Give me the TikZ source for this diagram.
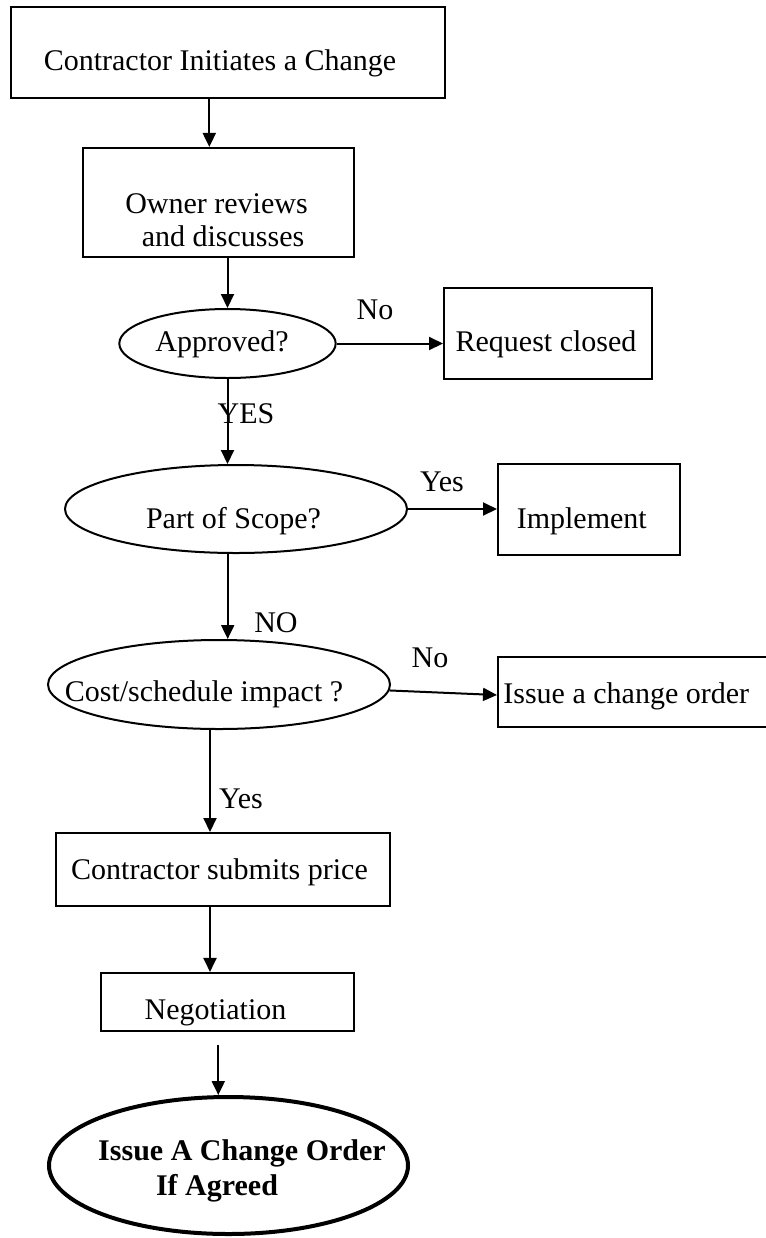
\documentclass[tikz,border=0pt]{standalone}
\usepackage{fontspec}
\setmainfont{Liberation Serif}
\usetikzlibrary{shapes.geometric,arrows.meta,calc}
\begin{document}
\begin{tikzpicture}[x=0.5pt,y=-0.5pt,
  every node/.style={font=\fontsize{15}{18}\selectfont},
  box/.style={draw,line width=1pt,rectangle,inner sep=0pt},
  ell/.style={draw,line width=1pt,ellipse,inner sep=0pt},
  txt/.style={anchor=base,inner sep=0pt},
  boldtxt/.style={txt,font=\fontsize{15}{18}\selectfont\bfseries},
  arr/.style={line width=1pt,-{Triangle[length=7pt,width=6.5pt]}}]
\useasboundingbox (0,0) rectangle (766,1238);
% column coordinates
\coordinate (cA) at (209.3,0);
\coordinate (cB) at (227.7,0);
\coordinate (cC) at (210,0);
\coordinate (cD) at (218.3,0);
% shapes
\node[box,minimum width=217pt,minimum height=45.35pt] (b1) at (227.7,52.7) {};
\node[txt] (t1) at (220,70.7) {Contractor Initiates a Change};
\node[box,minimum width=135.65pt,minimum height=54.35pt] (b2) at (218.3,202.3) {};
\node[txt] (t2a) at (216.5,213.3) {Owner reviews};
\node[txt] (t2b) at (223,246.7) {and discusses};
\node[ell,minimum width=108.2pt,minimum height=34.5pt] (e1) at (227.5,343.5) {};
\node[txt] (t3) at (222,351.7) {Approved?};
\node[box,minimum width=104pt,minimum height=45.5pt] (b3) at (548,333.5) {};
\node[txt] (t4) at (546,351.7) {Request closed};
\node[ell,minimum width=171pt,minimum height=44pt] (e2) at (236,509) {};
\node[txt] (t5) at (233.5,528.3) {Part of Scope?};
\node[box,minimum width=91pt,minimum height=45.5pt] (b4) at (589,509.5) {};
\node[txt] (t6) at (581.8,528.3) {Implement};
\node[ell,minimum width=171pt,minimum height=44.5pt] (e3) at (219,684.5) {};
\node[txt] (t7) at (204,701.7) {Cost/schedule impact ?};
\node[box,minimum width=136pt,minimum height=35pt] (b5) at (634,692) {};
\node[txt,anchor=base west] (t8) at (503,703.3) {Issue a change order};
\node[box,minimum width=167pt,minimum height=36.5pt] (b6) at (223,869.5) {};
\node[txt] (t9) at (219.5,879.3) {Contractor submits price};
\node[box,minimum width=126.65pt,minimum height=28.85pt] (b7) at (227.3,1001.8) {};
\node[txt] (t10) at (215.5,1019.3) {Negotiation};
\node[ell,line width=2pt,minimum width=179.5pt,minimum height=68.5pt] (e4) at (228.5,1165.5) {};
\node[boldtxt] (t11a) at (242,1160) {Issue A Change Order};
\node[boldtxt] (t11b) at (217,1195) {If Agreed};
% connector labels
\node[txt] (l1) at (375,319.5) {No};
\node[txt] (l2) at (246,423.3) {YES};
\node[txt] (l3) at (442,491.7) {Yes};
\node[txt] (l4) at (276,632) {NO};
\node[txt] (l5) at (430,667.7) {No};
\node[txt] (l6) at (241,808.3) {Yes};
% connectors
\draw[arr] (b1.south -| cA) -- (b2.north -| cA);
\draw[arr] (b2.south -| e1.north) -- (e1.north);
\draw[arr] (e1.east) -- (e1.east -| b3.west);
\draw[arr] (e1.south) -- (e2.north -| e1.south);
\draw[arr] (e2.east) -- (e2.east -| b4.west);
\draw[arr] (e2.south -| cB) -- (e3.north -| cB);
\draw[arr] (e3.-2.5) -- ($(b5.west)+(0,3)$);
\draw[arr] (e3.south -| cC) -- (b6.north -| cC);
\draw[arr] (b6.south -| cC) -- (b7.north -| cC);
\draw[arr,shorten <=6.5pt] (b7.south -| cD) -- (e4.north -| cD);
\end{tikzpicture}
\end{document}
